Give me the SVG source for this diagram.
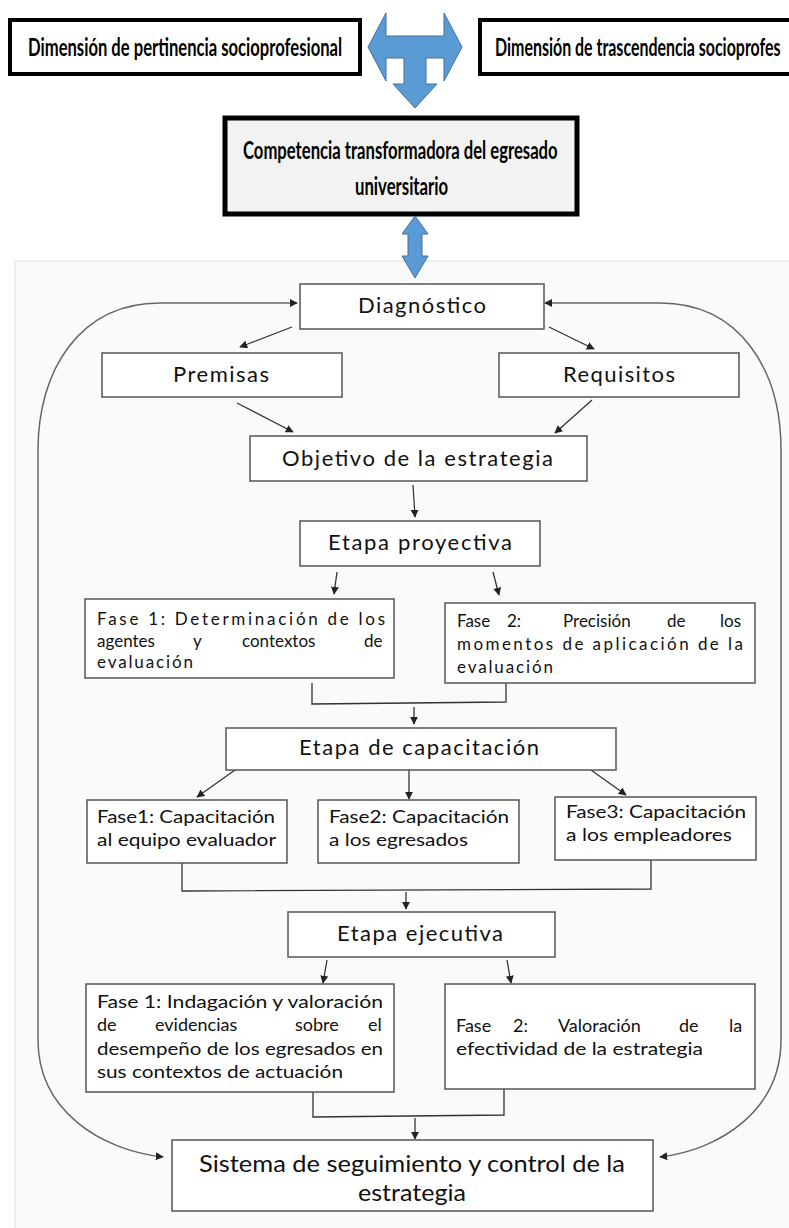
<svg xmlns="http://www.w3.org/2000/svg" width="789" height="1228" viewBox="0 0 789 1228">
<defs>
<marker id="ah" viewBox="0 0 10 10" refX="9" refY="5" markerWidth="8" markerHeight="8" markerUnits="userSpaceOnUse" orient="auto-start-reverse">
<path d="M0,0 L10,5 L0,10 z" fill="#222"/>
</marker>
<style>
.top{fill:#fff;stroke:#000;stroke-width:4}
.comp{fill:#f2f2f2;stroke:#000;stroke-width:5}
.tb{font-family:Lato,"Liberation Sans",sans-serif;font-weight:bold;fill:#000}
.box{fill:#fff;stroke:#555;stroke-width:1.5}
.t{font-family:Lato,"Open Sans","Liberation Sans",sans-serif;fill:#111}
.big{font-size:22px}
.sm{font-size:17px}
.cal{font-size:18px}
.ln{fill:none;stroke:#333;stroke-width:1.3}
.arr{fill:none;stroke:#333;stroke-width:1.3;marker-end:url(#ah)}
.loop{fill:none;stroke:#666;stroke-width:1.5;marker-start:url(#ah);marker-end:url(#ah)}
.blue{fill:#5b9bd5;stroke:#41719c;stroke-width:1}
</style>
</defs>
<rect x="0" y="0" width="789" height="1228" fill="#fff"/>
<rect x="15" y="261" width="790" height="980" fill="#fafafa" stroke="#dddddd" stroke-width="1"/>

<g id="dim-pertinencia">
<rect class="top" x="10" y="20" width="350" height="54"/>
<text class="tb" font-size="24" transform="translate(28,56) scale(0.68,1)" x="0" y="0" textLength="462" lengthAdjust="spacingAndGlyphs">Dimensión de pertinencia socioprofesional</text>
</g>
<g id="dim-trascendencia">
<rect class="top" x="480" y="20" width="340" height="54"/>
<text class="tb" font-size="24" transform="translate(495,56) scale(0.68,1)" x="0" y="0" textLength="420" lengthAdjust="spacingAndGlyphs">Dimensión de trascendencia socioprofes</text>
</g>
<g id="competencia">
<rect class="comp" x="225" y="118" width="352" height="96"/>
<text class="tb" font-size="25" transform="translate(243,159) scale(0.69,1)" x="0" y="0" textLength="456" lengthAdjust="spacingAndGlyphs">Competencia transformadora del egresado</text>
<text class="tb" font-size="25" transform="translate(355,195) scale(0.69,1)" x="0" y="0" textLength="135" lengthAdjust="spacingAndGlyphs">universitario</text>
</g>

<g id="blue-arrows">
<polygon class="blue" points="368,47 386,13 386,36 444,36 444,13 462,47 444,81 444,58 426,58 426,84 437,84 415,108 393,84 404,84 404,58 386,58 386,81"/>
<polygon class="blue" points="415,216 428,234 422,234 422,256 428,256 415,278 402,256 408,256 408,234 402,234"/>
</g>

<g id="connectors">
<path class="loop" d="M297,303 L160,303 C80,303 38,370 38,450 L38,1040 C38,1110 100,1150 163,1157"/>
<path class="loop" d="M545,303 L660,303 C740,303 781,370 781,450 L781,1040 C781,1110 720,1150 660,1157"/>
<line class="arr" x1="292" y1="327" x2="240" y2="347"/>
<line class="arr" x1="549" y1="327" x2="594" y2="349"/>
<line class="arr" x1="237" y1="403" x2="293" y2="432"/>
<line class="arr" x1="592" y1="400" x2="555" y2="433"/>
<line class="arr" x1="413" y1="485" x2="415" y2="517"/>
<line class="arr" x1="337" y1="572" x2="334" y2="594"/>
<line class="arr" x1="493" y1="572" x2="499" y2="595"/>
<polyline class="ln" points="312,683 312,704 506,702 506,683"/>
<line class="arr" x1="414" y1="707" x2="414" y2="724"/>
<line class="arr" x1="235" y1="770" x2="197" y2="797"/>
<line class="arr" x1="409" y1="770" x2="409" y2="799"/>
<line class="arr" x1="591" y1="770" x2="626" y2="795"/>
<polyline class="ln" points="182,863 182,891 651,889 651,860"/>
<line class="arr" x1="406" y1="892" x2="406" y2="909"/>
<line class="arr" x1="327" y1="960" x2="323" y2="983"/>
<line class="arr" x1="507" y1="960" x2="511" y2="983"/>
<polyline class="ln" points="313,1092 313,1117 504,1115 504,1089"/>
<line class="arr" x1="415" y1="1118" x2="415" y2="1139"/>
</g>

<g id="diagnostico">
<rect class="box" x="300" y="284" width="244" height="45"/>
<text class="t big" x="358" y="313" textLength="128" lengthAdjust="spacing">Diagnóstico</text>
</g>
<g id="premisas">
<rect class="box" x="102" y="353" width="240" height="44"/>
<text class="t big" x="173" y="382" textLength="96" lengthAdjust="spacing">Premisas</text>
</g>
<g id="requisitos">
<rect class="box" x="499" y="353" width="240" height="44"/>
<text class="t big" x="563" y="382" textLength="112" lengthAdjust="spacing">Requisitos</text>
</g>
<g id="objetivo">
<rect class="box" x="250" y="436" width="337" height="45"/>
<text class="t big" x="282" y="466" textLength="271" lengthAdjust="spacing">Objetivo de la estrategia</text>
</g>
<g id="etapa-proyectiva">
<rect class="box" x="300" y="521" width="240" height="45"/>
<text class="t big" x="328" y="550" textLength="184" lengthAdjust="spacing">Etapa proyectiva</text>
</g>
<g id="fase1-proyectiva">
<rect class="box" x="85" y="599" width="309" height="79"/>
<text class="t sm" x="97" y="625" textLength="288" lengthAdjust="spacing">Fase 1: Determinación de los</text>
<text class="t sm" y="647"><tspan x="97">agentes</tspan><tspan x="193">y</tspan><tspan x="242">contextos</tspan><tspan x="364">de</tspan></text>
<text class="t sm" x="97" y="668" textLength="96" lengthAdjust="spacing">evaluación</text>
</g>
<g id="fase2-proyectiva">
<rect class="box" x="445" y="603" width="310" height="80"/>
<text class="t sm" y="627"><tspan x="457">Fase</tspan><tspan x="507">2:</tspan><tspan x="563">Precisión</tspan><tspan x="667">de</tspan><tspan x="720">los</tspan></text>
<text class="t sm" x="457" y="650" textLength="286" lengthAdjust="spacing">momentos de aplicación de la</text>
<text class="t sm" x="457" y="673" textLength="96" lengthAdjust="spacing">evaluación</text>
</g>
<g id="etapa-capacitacion">
<rect class="box" x="226" y="728" width="390" height="42"/>
<text class="t big" x="299" y="755" textLength="240" lengthAdjust="spacing">Etapa de capacitación</text>
</g>
<g id="fase1-capacitacion">
<rect class="box" x="87" y="800" width="200" height="63"/>
<text class="t cal" x="97" y="823" textLength="178" lengthAdjust="spacingAndGlyphs">Fase1: Capacitación</text>
<text class="t cal" x="97" y="846" textLength="179" lengthAdjust="spacingAndGlyphs">al equipo evaluador</text>
</g>
<g id="fase2-capacitacion">
<rect class="box" x="318" y="800" width="201" height="63"/>
<text class="t cal" x="329" y="823" textLength="180" lengthAdjust="spacingAndGlyphs">Fase2: Capacitación</text>
<text class="t cal" x="329" y="846" textLength="139" lengthAdjust="spacingAndGlyphs">a los egresados</text>
</g>
<g id="fase3-capacitacion">
<rect class="box" x="555" y="797" width="201" height="63"/>
<text class="t cal" x="566" y="818" textLength="180" lengthAdjust="spacingAndGlyphs">Fase3: Capacitación</text>
<text class="t cal" x="566" y="841" textLength="166" lengthAdjust="spacingAndGlyphs">a los empleadores</text>
</g>
<g id="etapa-ejecutiva">
<rect class="box" x="288" y="912" width="267" height="45"/>
<text class="t big" x="337" y="941" textLength="166" lengthAdjust="spacing">Etapa ejecutiva</text>
</g>
<g id="fase1-ejecutiva">
<rect class="box" x="86" y="984" width="308" height="108"/>
<text class="t cal" x="97" y="1008" textLength="286" lengthAdjust="spacingAndGlyphs">Fase 1: Indagación y valoración</text>
<text class="t cal" y="1031"><tspan x="97">de</tspan><tspan x="155">evidencias</tspan><tspan x="295">sobre</tspan><tspan x="368">el</tspan></text>
<text class="t cal" x="97" y="1055" textLength="286" lengthAdjust="spacingAndGlyphs">desempeño de los egresados en</text>
<text class="t cal" x="97" y="1078" textLength="246" lengthAdjust="spacingAndGlyphs">sus contextos de actuación</text>
</g>
<g id="fase2-ejecutiva">
<rect class="box" x="445" y="984" width="310" height="105"/>
<text class="t cal" y="1032"><tspan x="456">Fase</tspan><tspan x="513">2:</tspan><tspan x="558">Valoración</tspan><tspan x="679">de</tspan><tspan x="729">la</tspan></text>
<text class="t cal" x="456" y="1055" textLength="247" lengthAdjust="spacingAndGlyphs">efectividad de la estrategia</text>
</g>
<g id="sistema">
<rect class="box" x="172" y="1140" width="481" height="71"/>
<text class="t" font-size="24" x="199" y="1172" textLength="426" lengthAdjust="spacingAndGlyphs">Sistema de seguimiento y control de la</text>
<text class="t" font-size="24" x="358" y="1201" textLength="108" lengthAdjust="spacingAndGlyphs">estrategia</text>
</g>
</svg>
